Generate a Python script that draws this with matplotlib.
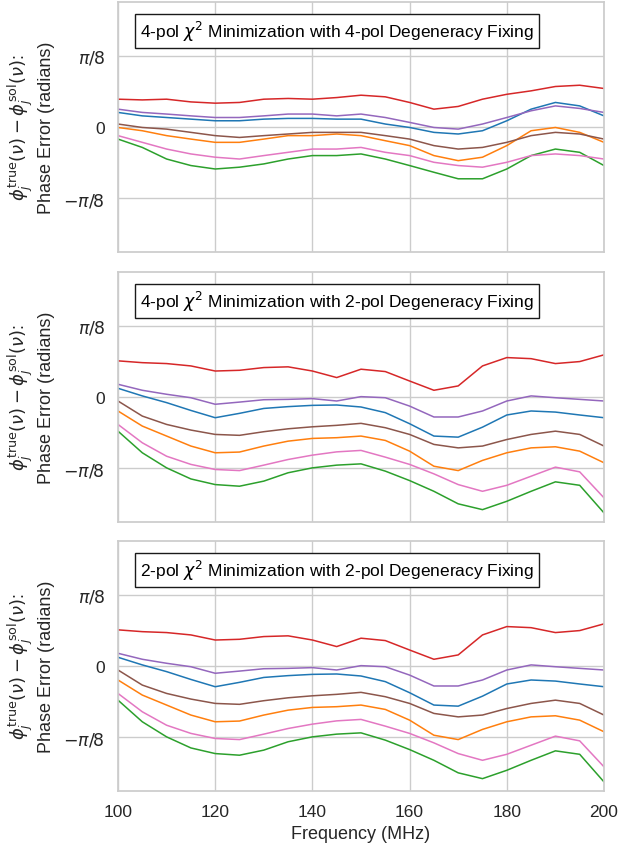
import numpy as np
import matplotlib
matplotlib.use("Agg")
import matplotlib.pyplot as plt
import seaborn as sns

sns.set_theme(style="whitegrid")
plt.rcParams['font.family'] = ['Liberation Sans', 'DejaVu Sans']
plt.rcParams['mathtext.fontset'] = 'dejavusans'

# Frequency grid (MHz)
freq = [100, 105, 110, 115, 120, 125, 130, 135, 140, 145, 150,
        155, 160, 165, 170, 175, 180, 185, 190, 195, 200]

# Panel 1: 4-pol chi^2 with 4-pol degeneracy fixing (radians)
p1_blue   = [0.079, 0.060, 0.051, 0.042, 0.033, 0.033, 0.042, 0.046, 0.046, 0.042, 0.042,
             0.015, -0.004, -0.031, -0.040, -0.022, 0.033, 0.097, 0.134, 0.115, 0.060]
p1_orange = [-0.004, -0.022, -0.049, -0.068, -0.086, -0.086, -0.068, -0.049, -0.049, -0.040, -0.049,
             -0.077, -0.104, -0.159, -0.187, -0.168, -0.104, -0.022, -0.004, -0.031, -0.086]
p1_green  = [-0.068, -0.114, -0.178, -0.214, -0.233, -0.223, -0.205, -0.178, -0.159, -0.159, -0.150,
             -0.178, -0.214, -0.251, -0.287, -0.287, -0.233, -0.159, -0.123, -0.141, -0.214]
p1_red    = [0.152, 0.148, 0.152, 0.137, 0.130, 0.134, 0.152, 0.156, 0.152, 0.161, 0.174,
             0.165, 0.134, 0.097, 0.112, 0.152, 0.179, 0.198, 0.222, 0.229, 0.211]
p1_purple = [0.097, 0.079, 0.070, 0.060, 0.051, 0.051, 0.060, 0.070, 0.070, 0.060, 0.070,
             0.051, 0.024, -0.004, -0.013, 0.015, 0.051, 0.088, 0.115, 0.101, 0.079]
p1_brown  = [0.015, -0.004, -0.013, -0.031, -0.049, -0.059, -0.049, -0.040, -0.031, -0.031, -0.031,
             -0.049, -0.068, -0.104, -0.123, -0.114, -0.086, -0.049, -0.031, -0.040, -0.068]
p1_pink   = [-0.049, -0.086, -0.123, -0.150, -0.168, -0.178, -0.159, -0.141, -0.123, -0.123, -0.114,
             -0.141, -0.159, -0.196, -0.214, -0.223, -0.196, -0.159, -0.150, -0.159, -0.178]

# Panel 2: 4-pol chi^2 with 2-pol degeneracy fixing (radians)
p2_blue   = [0.048, 0.006, -0.031, -0.074, -0.114, -0.090, -0.063, -0.053, -0.046, -0.044, -0.055,
             -0.086, -0.147, -0.215, -0.221, -0.166, -0.099, -0.077, -0.083, -0.099, -0.114]
p2_orange = [-0.077, -0.160, -0.215, -0.270, -0.307, -0.303, -0.270, -0.243, -0.228, -0.224, -0.215,
             -0.239, -0.298, -0.381, -0.405, -0.349, -0.307, -0.280, -0.274, -0.298, -0.362]
p2_green  = [-0.188, -0.307, -0.390, -0.451, -0.482, -0.491, -0.463, -0.417, -0.390, -0.375, -0.368,
             -0.408, -0.460, -0.519, -0.588, -0.620, -0.574, -0.519, -0.467, -0.486, -0.638]
p2_red    = [0.199, 0.189, 0.184, 0.171, 0.143, 0.147, 0.162, 0.166, 0.143, 0.107, 0.153,
             0.140, 0.088, 0.037, 0.061, 0.171, 0.217, 0.211, 0.184, 0.195, 0.232]
p2_purple = [0.070, 0.037, 0.015, -0.004, -0.040, -0.028, -0.015, -0.013, -0.009, -0.022, 0.002,
             -0.004, -0.050, -0.110, -0.110, -0.077, -0.022, 0.006, -0.004, -0.013, -0.022]
p2_brown  = [-0.022, -0.105, -0.151, -0.182, -0.206, -0.211, -0.191, -0.175, -0.164, -0.156, -0.145,
             -0.169, -0.206, -0.261, -0.280, -0.270, -0.234, -0.206, -0.188, -0.206, -0.270]
p2_pink   = [-0.151, -0.252, -0.326, -0.371, -0.399, -0.405, -0.375, -0.344, -0.320, -0.302, -0.294,
             -0.331, -0.371, -0.423, -0.482, -0.519, -0.486, -0.436, -0.386, -0.412, -0.555]

# Panel 3: 2-pol chi^2 with 2-pol degeneracy fixing (radians)
p3_blue   = [0.048, 0.006, -0.031, -0.074, -0.114, -0.090, -0.063, -0.053, -0.046, -0.044, -0.055,
             -0.086, -0.147, -0.215, -0.221, -0.166, -0.099, -0.077, -0.083, -0.099, -0.114]
p3_orange = [-0.077, -0.160, -0.215, -0.270, -0.307, -0.303, -0.270, -0.243, -0.228, -0.224, -0.215,
             -0.239, -0.298, -0.381, -0.405, -0.349, -0.307, -0.280, -0.274, -0.298, -0.362]
p3_green  = [-0.188, -0.307, -0.390, -0.451, -0.482, -0.491, -0.463, -0.417, -0.390, -0.375, -0.368,
             -0.408, -0.460, -0.519, -0.588, -0.620, -0.574, -0.519, -0.467, -0.486, -0.638]
p3_red    = [0.199, 0.189, 0.184, 0.171, 0.143, 0.147, 0.162, 0.166, 0.143, 0.107, 0.153,
             0.140, 0.088, 0.037, 0.061, 0.171, 0.217, 0.211, 0.184, 0.195, 0.232]
p3_purple = [0.070, 0.037, 0.015, -0.004, -0.040, -0.028, -0.015, -0.013, -0.009, -0.022, 0.002,
             -0.004, -0.050, -0.110, -0.110, -0.077, -0.022, 0.006, -0.004, -0.013, -0.022]
p3_brown  = [-0.022, -0.105, -0.151, -0.182, -0.206, -0.211, -0.191, -0.175, -0.164, -0.156, -0.145,
             -0.169, -0.206, -0.261, -0.280, -0.270, -0.234, -0.206, -0.188, -0.206, -0.270]
p3_pink   = [-0.151, -0.252, -0.326, -0.371, -0.399, -0.405, -0.375, -0.344, -0.320, -0.302, -0.294,
             -0.331, -0.371, -0.423, -0.482, -0.519, -0.486, -0.436, -0.386, -0.412, -0.555]

titles = [r"4-pol $\chi^2$ Minimization with 4-pol Degeneracy Fixing",
          r"4-pol $\chi^2$ Minimization with 2-pol Degeneracy Fixing",
          r"2-pol $\chi^2$ Minimization with 2-pol Degeneracy Fixing"]

panels = [
    [p1_blue, p1_orange, p1_green, p1_red, p1_purple, p1_brown, p1_pink],
    [p2_blue, p2_orange, p2_green, p2_red, p2_purple, p2_brown, p2_pink],
    [p3_blue, p3_orange, p3_green, p3_red, p3_purple, p3_brown, p3_pink],
]
colors = ['#1f77b4', '#ff7f0e', '#2ca02c', '#d62728', '#9467bd', '#8c564b', '#e377c2']

ytick_vals = [-np.pi / 8, 0, np.pi / 8]
ytick_labels = [r"$-\pi/8$", "0", r"$\pi/8$"]
xticks = [100, 120, 140, 160, 180, 200]

W, H = 643, 845
fig = plt.figure(figsize=(W / 100, H / 100), dpi=100)
left, right = 118 / W, 604 / W
boxes = [(3, 252.5), (273, 523), (542, 792)]

ylabel = r"$\phi_j^{\rm true}(\nu) - \phi_j^{\rm sol}(\nu)$:" + "\nPhase Error (radians)"

for i, (series, title) in enumerate(zip(panels, titles)):
    top, bot = boxes[i]
    ax = fig.add_axes([left, 1 - bot / H, right - left, (bot - top) / H])
    for s, c in zip(series, colors):
        ax.plot(freq, s, color=c, lw=1.1)
    ax.set_xlim(100, 200)
    ax.set_ylim(-0.688, 0.688)
    ax.set_xticks(xticks)
    ax.set_yticks(ytick_vals)
    ax.set_yticklabels(ytick_labels)
    ax.tick_params(labelsize=12.5, colors='0.15')
    for sp in ax.spines.values():
        sp.set_color('0.8')
        sp.set_linewidth(1.25)
    ax.grid(True, color='0.8', lw=1)
    if i < 2:
        ax.set_xticklabels([])
    else:
        ax.set_xlabel("Frequency (MHz)", fontsize=13, color='0.15')
    ax.set_ylabel(ylabel, fontsize=13, color='0.15', labelpad=6)
    ax.text(0.045, 0.884, title, transform=ax.transAxes, fontsize=12.5,
            va='center', ha='left', color='black',
            bbox=dict(boxstyle='square,pad=0.3', fc='white', ec='0.1', lw=1.0))

fig.savefig("out.png", dpi=100)
